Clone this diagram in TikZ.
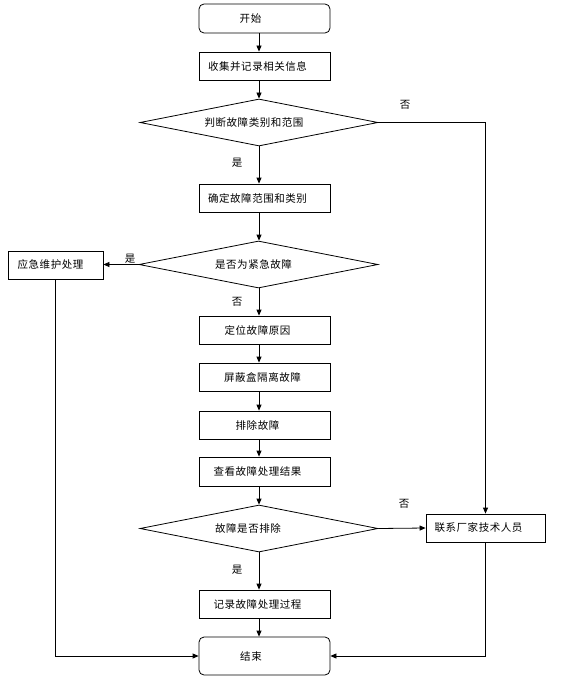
\documentclass[tikz,border=0pt]{standalone}
\usepackage{fontspec}
\setmainfont{Noto Sans CJK SC}[LetterSpace=5]
\usetikzlibrary{shapes.geometric,arrows.meta}
\begin{document}
\begin{tikzpicture}[x=1pt,y=-1pt,
  tshift/.code={\def\mytshift{#1}},
  every node/.style={font=\fontsize{10.5}{12}\selectfont, text=black, tshift=0pt,
    execute at begin node={\hspace*{\mytshift}}},
  box/.style={draw, line width=0.8pt, minimum width=131pt, minimum height=28pt, inner sep=0pt, tshift=-14pt},
  term/.style={box, rounded corners=5pt, tshift=-28pt},
  dia/.style={draw, diamond, shape aspect=5, line width=0.8pt, minimum width=238pt, minimum height=47pt, inner sep=0pt, tshift=-10pt},
  lbl/.style={inner sep=0pt},
  conn/.style={line width=0.8pt, -{Triangle[length=6pt,width=5pt]}}
]
\useasboundingbox (0,0) rectangle (564,679);
\fill[white] (0,0) rectangle (564,679);

\node[term, minimum height=29pt] (start) at (264.5,18.5) {开始};
\node[box] (collect) at (264.5,66) {收集并记录相关信息};
\node[dia] (d1) at (259,122.5) {判断故障类别和范围};
\node[box] (confirm) at (264.5,198) {确定故障范围和类别};
\node[dia, minimum width=239pt] (d2) at (258.5,264.5) {是否为紧急故障};
\node[box, minimum width=95pt, tshift=-10pt] (emerg) at (55.5,265) {应急维护处理};
\node[box] (locate) at (264.5,330) {定位故障原因};
\node[box, tshift=-4pt] (shield) at (264.5,377) {屏蔽盒隔离故障};
\node[box] (remove) at (264.5,425) {排除故障};
\node[box, minimum height=29pt] (check) at (264.5,471.5) {查看故障处理结果};
\node[dia, tshift=-22pt] (d3) at (259,528.5) {故障是否排除};
\node[box, minimum width=119pt] (contact) at (485.5,528) {联系厂家技术人员};
\node[box] (record) at (264.5,604) {记录故障处理过程};
\node[term, minimum height=38pt, tshift=-27pt] (finish) at (264.5,656) {结束};

\node[lbl] (no1) at (405,105) {否};
\node[lbl] (yes1) at (237,163) {是};
\node[lbl] (yes2) at (130,259) {是};
\node[lbl] (no2) at (237,302) {否};
\node[lbl] (no3) at (404,504) {否};
\node[lbl] (yes3) at (237,570) {是};

\coordinate (col) at (259,0);
\draw[conn] (start.south -| col) -- (collect.north -| col);
\draw[conn] (collect.south -| col) -- (d1.north);
\draw[conn] (d1.south) -- (confirm.north -| col);
\draw[conn] (confirm.south -| col) -- (d2.north -| col);
\draw[conn] (d2.south -| col) -- (locate.north -| col);
\draw[conn] (d2.west) -- (d2.west -| emerg.east);
\draw[conn] (locate.south -| col) -- (shield.north -| col);
\draw[conn] (shield.south -| col) -- (remove.north -| col);
\draw[conn] (remove.south -| col) -- (check.north -| col);
\draw[conn] (check.south -| col) -- (d3.north);
\draw[conn] (d1.east) -- (d1.east -| contact.north) -- (contact.north);
\draw[conn] (d3.east) -- (contact.west);
\draw[conn] (d3.south) -- (record.north -| col);
\draw[conn] (record.south -| col) -- (finish.north -| col);
\draw[conn] (contact.south) -- (contact.south |- finish.east) -- (finish.east);
\draw[conn] (emerg.south) -- (emerg.south |- finish.west) -- (finish.west);
\end{tikzpicture}
\end{document}
